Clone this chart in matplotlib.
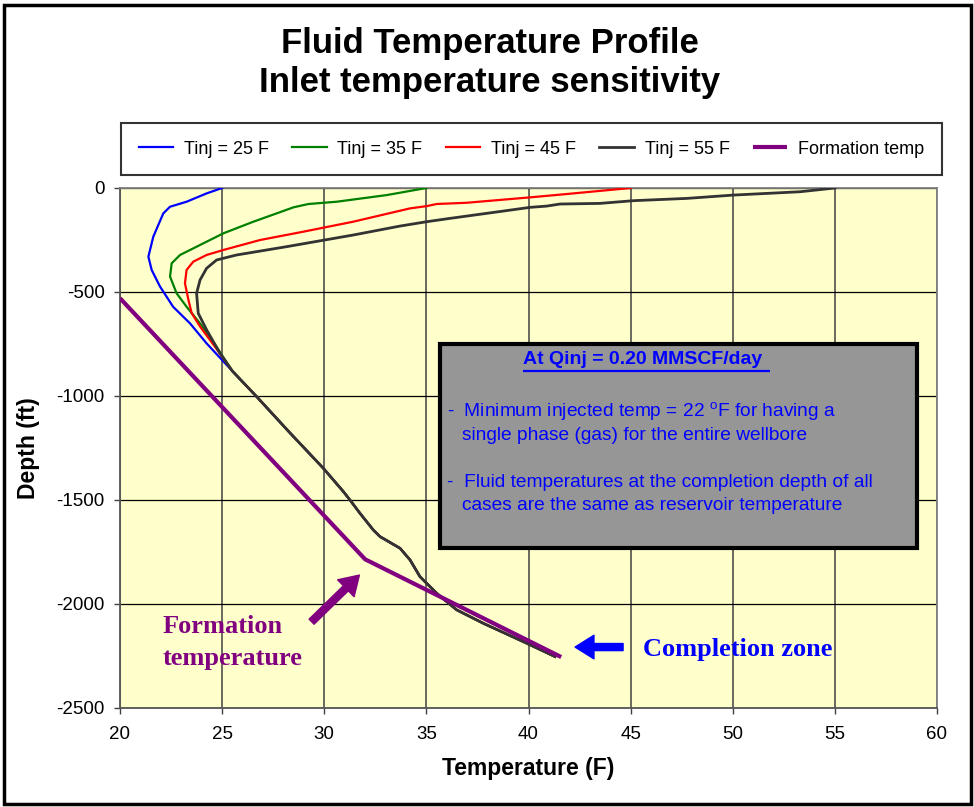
import matplotlib
matplotlib.use('Agg')
import matplotlib.pyplot as plt
import numpy as np
from matplotlib.patches import Rectangle

plt.rcParams['font.family'] = ['Liberation Sans', 'DejaVu Sans']
plt.rcParams['mathtext.fontset'] = 'custom'
plt.rcParams['mathtext.rm'] = 'Liberation Sans'
plt.rcParams['axes.unicode_minus'] = False

# ---------------- data (temperature in F, depth in ft) ----------------
# lower part of the wellbore, where all injection cases collapse onto one profile
temp_lower = [25.5, 26.69, 28.3, 29.96, 30.94, 31.26, 31.75, 32.4, 32.73, 33.71,
              34.2, 34.69, 35.5, 36.48, 37.79, 39.92, 41.3]
depth_lower = [-880, -1003, -1175, -1348, -1460, -1500, -1564, -1644, -1676, -1732,
               -1788, -1869, -1948, -2028, -2093, -2189, -2253]

temp_25 = [25.0, 24.24, 23.26, 22.45, 22.12, 21.63, 21.39, 21.55, 21.96, 22.6, 23.43, 24.24]
depth_25 = [0, -26, -66, -90, -122, -234, -330, -394, -474, -571, -651, -747]

temp_35 = [35.0, 33.06, 30.61, 29.22, 28.49, 27.67, 26.53, 25.06, 24.08, 22.94,
           22.53, 22.45, 22.77, 23.26, 23.92, 24.7]
depth_35 = [0, -34, -66, -77, -93, -122, -162, -218, -266, -322,
            -362, -426, -506, -571, -651, -760]

temp_45 = [45.0, 41.87, 40.08, 36.97, 35.5, 35.02, 34.2, 31.42, 28.98, 26.86, 25.06,
           24.24, 23.59, 23.26, 23.18, 23.35, 23.51, 23.92, 24.7]
depth_45 = [0, -29, -45, -71, -77, -87, -98, -162, -210, -250, -298,
            -322, -354, -394, -458, -538, -602, -666, -770]

temp_55 = [55.0, 53.3, 50.03, 47.75, 45.13, 43.5, 41.55, 40.89, 40.08, 38.61, 36.16,
           35.02, 33.71, 31.42, 28.16, 25.71, 24.73, 24.24, 23.92, 23.75, 23.83, 24.24, 24.9]
depth_55 = [0, -18, -34, -50, -61, -74, -77, -87, -93, -113, -146,
            -162, -183, -226, -282, -322, -346, -386, -442, -506, -602, -682, -795]

temp_form = [20.0, 32.0, 41.6]
depth_form = [-530, -1785, -2255]

labels = ['Tinj = 25 F', 'Tinj = 35 F', 'Tinj = 45 F', 'Tinj = 55 F', 'Formation temp']
colors = ['#0000FF', '#008000', '#FF0000', '#333333', '#800080']
x_ticks = [20, 25, 30, 35, 40, 45, 50, 55, 60]
y_ticks = [0, -500, -1000, -1500, -2000, -2500]

# ---------------- figure ----------------
fig = plt.figure(figsize=(9.74, 8.07), dpi=100)
ax = fig.add_axes([120/974, 1-708/807, 817/974, 520/807])
ax.set_facecolor('#FFFFCC')

cases = [(temp_25, depth_25), (temp_35, depth_35), (temp_45, depth_45), (temp_55, depth_55)]
handles = []
for i, (t, d) in enumerate(cases):
    lw = 2.0 if i == 3 else 1.6
    h, = ax.plot(t + temp_lower, d + depth_lower, color=colors[i], lw=lw, zorder=3)
    handles.append(h)
h, = ax.plot(temp_form, depth_form, color=colors[4], lw=3.0, zorder=4,
             solid_capstyle='butt')
handles.append(h)

ax.set_xlim(20, 60)
ax.set_ylim(-2500, 0)
ax.set_xticks(x_ticks)
ax.set_yticks(y_ticks)
ax.xaxis.grid(True, color='#404040', lw=1.1)
ax.yaxis.grid(True, color='black', lw=0.9)
ax.set_axisbelow(True)
for s in ax.spines.values():
    s.set_color('#808080')
    s.set_linewidth(1.3)
ax.spines['left'].set_color('#555555')
ax.spines['bottom'].set_color('#555555')
ax.tick_params(axis='both', direction='out', length=4, width=1, color='#404040',
               labelsize=13.5)
ax.tick_params(axis='y', pad=7)
ax.tick_params(axis='x', pad=9)

ax.set_xlabel('Temperature (F)', fontsize=16.5, fontweight='bold', labelpad=10)
ax.set_ylabel('Depth (ft)', fontsize=16.5, fontweight='bold', labelpad=12)

fig.text(0.503, 1-63/807, 'Fluid Temperature Profile\nInlet temperature sensitivity',
         ha='center', va='center', fontsize=25, fontweight='bold', linespacing=1.25)

leg = fig.legend(handles, labels, loc='center', ncol=5,
                 bbox_to_anchor=((123+940)/2/974, 1-149/807),
                 fontsize=13, handlelength=1.9, handletextpad=0.6, columnspacing=1.3,
                 frameon=True, fancybox=False, borderpad=0.95)
leg.get_frame().set_edgecolor('black')
leg.get_frame().set_linewidth(1.5)

# note box
box = Rectangle((0.3917, 0.3077), 0.9755-0.3917, 0.7-0.3077, transform=ax.transAxes,
                facecolor='#969696', edgecolor='black', lw=3, zorder=5)
ax.add_patch(box)
blue = '#0000FF'
ax.text(0.4930, 0.670, 'At Qinj = 0.20 MMSCF/day ', transform=ax.transAxes,
        ha='left', va='center', fontsize=14, fontweight='bold', color=blue, zorder=6)
ax.plot([0.4930, 0.7950], [0.649, 0.649], transform=ax.transAxes, color=blue, lw=1.6,
        zorder=6, solid_capstyle='butt')
note_lines = [
    (0.4003, 0.570, '-  Minimum injected temp = 22 $^{\\mathrm{o}}$F for having a'),
    (0.4190, 0.524, 'single phase (gas) for the entire wellbore'),
    (0.4003, 0.434, '-  Fluid temperatures at the completion depth of all'),
    (0.4190, 0.390, 'cases are the same as reservoir temperature'),
]
for x, y, s in note_lines:
    ax.text(x, y, s, transform=ax.transAxes, ha='left', va='center', fontsize=13.8,
            color=blue, zorder=6)

# call-outs
serif = ['Liberation Serif', 'DejaVu Serif']
arrow = 'simple,head_length=0.8,head_width=1.0,tail_width=0.3'
ax.text(22.1, -2110, 'Formation', family=serif, fontsize=19, fontweight='bold',
        color='#800080', ha='left', va='center')
ax.text(22.1, -2262, 'temperature', family=serif, fontsize=19, fontweight='bold',
        color='#800080', ha='left', va='center')
ax.annotate('', xy=(31.72, -1861), xytext=(29.38, -2085),
            arrowprops=dict(arrowstyle=arrow, color='#800080', mutation_scale=17,
                            shrinkA=0, shrinkB=0))
ax.text(45.6, -2221, 'Completion zone', family=serif, fontsize=19, fontweight='bold',
        color=blue, ha='left', va='center')
ax.annotate('', xy=(42.28, -2207), xytext=(44.63, -2207),
            arrowprops=dict(arrowstyle=arrow, color=blue, mutation_scale=17,
                            shrinkA=0, shrinkB=0))

# outer frame
fig.add_artist(Rectangle((4/974, 1-804/807), 967/974, 799/807, transform=fig.transFigure,
                         fill=False, edgecolor='black', lw=2.5))

plt.savefig('out.png', dpi=100)
